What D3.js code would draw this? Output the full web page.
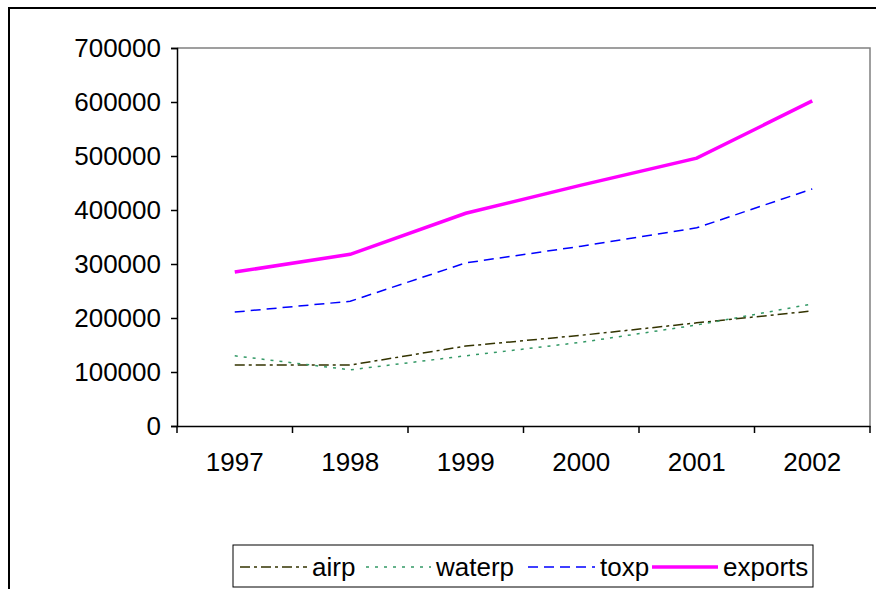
<!DOCTYPE html>
<html>
<head>
<meta charset="utf-8">
<script src="https://cdn.jsdelivr.net/npm/d3@7"></script>
<style>
body { margin: 0; background: #fff; }
text { font-family: "Liberation Sans", Arial, sans-serif; }
</style>
</head>
<body>
<script>
var years = ["1997", "1998", "1999", "2000", "2001", "2002"];
var airp = [113000, 113000, 148000, 168000, 191000, 213000];
var waterp = [130000, 104000, 130000, 155000, 187000, 226000];
var toxp = [211000, 231000, 302000, 333000, 367000, 439000];
var exports = [285000, 318000, 394000, 446000, 496000, 602000];
var yTicks = [0, 100000, 200000, 300000, 400000, 500000, 600000, 700000];

var series = [
	{ name: "airp", values: airp, color: "#333300", width: 1.5, dash: "10,4,3,4" },
	{ name: "waterp", values: waterp, color: "#339966", width: 1.5, dash: "3,6" },
	{ name: "toxp", values: toxp, color: "#0000FF", width: 1.5, dash: "10,6" },
	{ name: "exports", values: exports, color: "#FF00FF", width: 3.5, dash: null }
];

var W = 876, H = 589;
var plotLeft = 177, plotRight = 870, plotTop = 48, plotBottom = 426;
var fontSize = "26px";

var svg = d3.select("body").append("svg")
	.attr("width", W)
	.attr("height", H);

// outer frame
svg.append("rect")
	.attr("x", 9).attr("y", 8)
	.attr("width", 900).attr("height", 600)
	.style("fill", "none")
	.style("stroke", "#000")
	.style("stroke-width", 2);

var x = d3.scaleBand().domain(years).range([plotLeft, plotRight]);
var y = d3.scaleLinear().domain([0, 700000]).range([plotBottom, plotTop]);

// plot area border (top & right gray)
svg.append("path")
	.attr("d", "M" + plotLeft + "," + plotTop + "H" + plotRight + "V" + plotBottom)
	.style("fill", "none")
	.style("stroke", "#808080")
	.style("stroke-width", 1.5);

var yAxis = svg.append("g")
	.attr("transform", "translate(" + plotLeft + ",0)")
	.call(d3.axisLeft(y).tickValues(yTicks).tickSize(6).tickPadding(10).tickFormat(d3.format("d")));
yAxis.select(".domain").style("stroke", "#000").style("stroke-width", 1.5);
yAxis.selectAll(".tick line").style("stroke", "#000").style("stroke-width", 1.5);
yAxis.selectAll("text").style("font-size", fontSize).style("fill", "#000")
	.style("font-family", "'Liberation Sans', Arial, sans-serif");

var xAxis = svg.append("g")
	.attr("transform", "translate(0," + plotBottom + ")")
	.call(d3.axisBottom(x).tickSize(0).tickPadding(27));
xAxis.select(".domain").style("stroke", "#000").style("stroke-width", 1.5);
xAxis.selectAll("text").style("font-size", fontSize).style("fill", "#000")
	.style("font-family", "'Liberation Sans', Arial, sans-serif")
	.attr("dy", "0.71em");

// category boundary ticks
var bounds = years.map(function (d) { return x(d); }).concat([plotRight]);
svg.append("g").selectAll("line")
	.data(bounds)
	.enter().append("line")
	.attr("x1", function (d) { return d; })
	.attr("x2", function (d) { return d; })
	.attr("y1", plotBottom)
	.attr("y2", plotBottom + 7)
	.style("stroke", "#000")
	.style("stroke-width", 1.5);

var line = d3.line()
	.x(function (d, i) { return x(years[i]) + x.bandwidth() / 2; })
	.y(function (d) { return y(d); });

series.forEach(function (s) {
	svg.append("path")
		.datum(s.values)
		.attr("d", line)
		.style("fill", "none")
		.style("stroke", s.color)
		.style("stroke-width", s.width)
		.style("stroke-dasharray", s.dash);
});

// legend
var legend = svg.append("g");
legend.append("rect")
	.attr("x", 233).attr("y", 545)
	.attr("width", 580).attr("height", 42)
	.style("fill", "#fff")
	.style("stroke", "#000")
	.style("stroke-width", 1);

var legendX = [240, 366, 528, 652];
var legendLen = [67, 65, 67, 66];
series.forEach(function (s, i) {
	legend.append("line")
		.attr("x1", legendX[i])
		.attr("x2", legendX[i] + legendLen[i])
		.attr("y1", 567).attr("y2", 567)
		.style("stroke", s.color)
		.style("stroke-width", s.width)
		.style("stroke-dasharray", s.dash);
	legend.append("text")
		.attr("x", legendX[i] + legendLen[i] + 5)
		.attr("y", 576)
		.style("font-size", fontSize)
		.text(s.name);
});
</script>
</body>
</html>
